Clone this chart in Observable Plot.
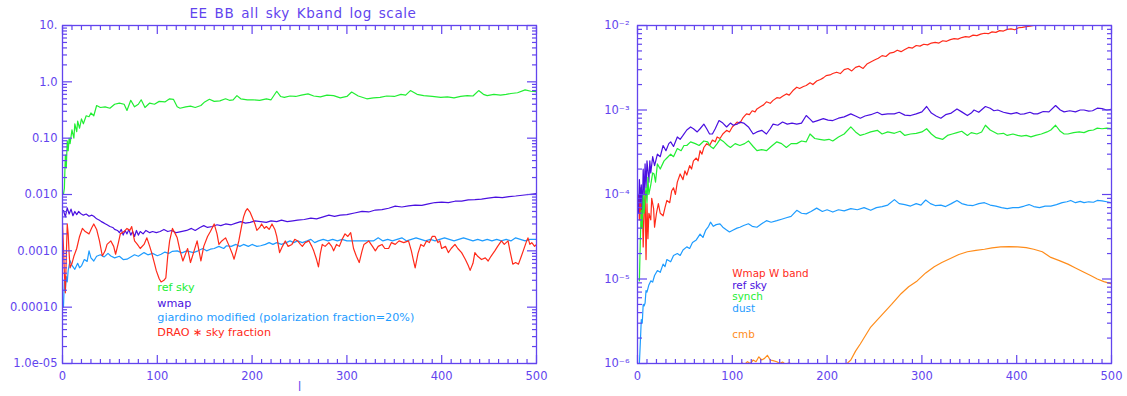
<!DOCTYPE html>
<html><head><meta charset="utf-8">
<script src="https://cdn.jsdelivr.net/npm/d3@7"></script>
<script src="https://cdn.jsdelivr.net/npm/@observablehq/plot@0.6"></script>
<style>
body{margin:0;background:#fff;}
#wrap{position:relative;width:1127px;height:396px;font-family:"DejaVu Sans",sans-serif;overflow:hidden;background:#fff;}
#left,#right{position:absolute;top:0;}
#left{left:0;} #right{left:563px;}
#title{position:absolute;left:0;width:606px;top:5px;text-align:center;font-size:13.5px;color:#6244ee;letter-spacing:0.6px;word-spacing:2px;z-index:5;}
</style></head>
<body><div id="wrap"><div id="title">EE BB all sky Kband log scale</div><div id="left"></div><div id="right"></div></div>
<script>
// ---------- Left panel data: [l, value] ----------
const leftRefSky = [[1,0.010],[2,0.013],[3,0.05],[4,0.03],[5,0.09],[6,0.06],[7,0.10],[8,0.08],[10,0.14],[12,0.10],[13,0.18],[15,0.13],[16,0.20],[18,0.15],[20,0.22],[22,0.18],[25,0.25],[28,0.24],[30,0.28],[33,0.25],[36,0.38],[40,0.35],[45,0.36],[50,0.34],[55,0.40],[60,0.42],[65,0.40],[68,0.31],[72,0.47],[76,0.36],[80,0.40],[83,0.48],[87,0.35],[92,0.42],[97,0.40],[102,0.45],[108,0.44],[113,0.50],[117,0.49],[121,0.36],[124,0.34],[130,0.36],[135,0.37],[140,0.35],[146,0.38],[150,0.44],[155,0.49],[160,0.45],[166,0.46],[172,0.50],[176,0.47],[180,0.48],[184,0.57],[188,0.50],[195,0.48],[201,0.48],[208,0.47],[215,0.50],[220,0.48],[226,0.68],[230,0.55],[234,0.53],[240,0.56],[246,0.55],[252,0.58],[259,0.61],[265,0.56],[272,0.54],[279,0.58],[286,0.57],[293,0.52],[300,0.55],[305,0.66],[312,0.56],[321,0.50],[328,0.52],[335,0.53],[342,0.56],[350,0.55],[357,0.60],[362,0.58],[367,0.70],[374,0.60],[381,0.57],[390,0.55],[399,0.53],[406,0.54],[413,0.52],[420,0.55],[427,0.57],[433,0.56],[439,0.70],[444,0.60],[448,0.57],[455,0.60],[462,0.58],[468,0.60],[473,0.62],[480,0.64],[488,0.72],[494,0.68],[500,0.67]];
const leftWmap = [[1,0.0052],[3,0.0040],[5,0.0058],[7,0.0045],[9,0.0055],[11,0.0042],[13,0.0050],[15,0.0044],[17,0.0050],[19,0.0046],[22,0.0043],[25,0.0045],[28,0.0041],[31,0.0043],[33,0.0041],[36,0.0037],[39,0.0035],[41,0.0033],[44,0.0031],[47,0.0029],[50,0.0027],[53,0.0026],[55,0.0024],[58,0.0023],[60,0.0021],[62,0.0024],[64,0.0019],[66,0.0023],[68,0.0020],[70,0.0024],[72,0.0019],[74,0.0022],[76,0.0018],[78,0.0023],[80,0.0019],[82,0.0022],[85,0.0020],[88,0.0023],[92,0.0021],[95,0.0022],[99,0.0021],[103,0.0022],[107,0.0024],[111,0.0022],[115,0.0023],[120,0.0021],[125,0.0022],[131,0.0023],[136,0.0025],[140,0.0023],[145,0.0026],[149,0.0028],[153,0.0026],[158,0.0027],[163,0.0029],[167,0.0028],[172,0.0030],[178,0.0029],[183,0.0031],[188,0.0033],[193,0.0031],[198,0.0032],[203,0.0034],[209,0.0033],[215,0.0032],[220,0.0034],[226,0.0033],[231,0.0035],[237,0.0033],[243,0.0034],[248,0.0035],[255,0.0036],[262,0.0038],[268,0.0037],[275,0.0040],[281,0.0043],[287,0.0041],[293,0.0043],[300,0.0044],[308,0.0047],[316,0.0050],[323,0.0049],[330,0.0053],[337,0.0054],[344,0.0057],[351,0.0062],[358,0.0060],[365,0.0063],[372,0.0065],[379,0.0064],[386,0.0068],[393,0.0072],[400,0.0073],[407,0.0072],[414,0.0076],[421,0.0076],[428,0.0080],[435,0.0081],[442,0.0083],[449,0.0086],[457,0.0090],[464,0.0088],[471,0.0092],[478,0.0094],[485,0.0097],[492,0.0100],[500,0.0104]];
const leftGiardino = [[1,0.00010],[2,0.00030],[3,0.00020],[4,0.00035],[5,0.00028],[6,0.00045],[8,0.00067],[10,0.00055],[13,0.00047],[16,0.00060],[18,0.00050],[20,0.00054],[23,0.00070],[26,0.00065],[28,0.0010],[30,0.00075],[33,0.00066],[36,0.00080],[40,0.00085],[44,0.00078],[48,0.00090],[51,0.00081],[55,0.00075],[60,0.00080],[64,0.00070],[68,0.00071],[72,0.00078],[76,0.00085],[80,0.00080],[86,0.00093],[90,0.00085],[95,0.00090],[100,0.00082],[104,0.00087],[108,0.00095],[112,0.00090],[116,0.00098],[121,0.0010],[126,0.00092],[131,0.0010],[138,0.00093],[143,0.0010],[148,0.0011],[152,0.0010],[156,0.00107],[160,0.0011],[165,0.0012],[170,0.0011],[173,0.00123],[178,0.0012],[183,0.0013],[187,0.0012],[191,0.0013],[196,0.0012],[200,0.0013],[205,0.0012],[209,0.00123],[214,0.0013],[218,0.0014],[222,0.0013],[226,0.0014],[231,0.0013],[236,0.0014],[240,0.0015],[244,0.0014],[248,0.0015],[253,0.0014],[258,0.0015],[262,0.0016],[266,0.0014],[270,0.0015],[275,0.0016],[280,0.0015],[285,0.0016],[290,0.0015],[295,0.0016],[300,0.0015],[310,0.0015],[320,0.0015],[328,0.0015],[333,0.0017],[338,0.0015],[343,0.0016],[348,0.0015],[353,0.0016],[358,0.0017],[363,0.0015],[368,0.0016],[373,0.0017],[378,0.0016],[383,0.0015],[388,0.0016],[393,0.0015],[398,0.0016],[403,0.0017],[408,0.0016],[413,0.0015],[418,0.0016],[423,0.0017],[428,0.0016],[433,0.0015],[438,0.0016],[443,0.0015],[448,0.0016],[453,0.0015],[458,0.0016],[463,0.0015],[468,0.0016],[473,0.0015],[478,0.0017],[483,0.0016],[488,0.0015],[493,0.0016],[500,0.0016]];
const leftDrao = [[0,0.0030],[1,0.0012],[2,0.0004],[3,0.00018],[4,0.0008],[5,0.0030],[6,0.0020],[7,0.0009],[8,0.0005],[10,0.0006],[12,0.0008],[15,0.0011],[18,0.0018],[21,0.0025],[24,0.0022],[28,0.0020],[31,0.0026],[33,0.0030],[36,0.0024],[39,0.0015],[42,0.00081],[45,0.0010],[47,0.0013],[51,0.0015],[54,0.0012],[56,0.00087],[59,0.0014],[61,0.0020],[65,0.0022],[68,0.0025],[71,0.0023],[73,0.0027],[76,0.0015],[79,0.0013],[82,0.0011],[86,0.0013],[89,0.0017],[92,0.0012],[94,0.00093],[97,0.0006],[99,0.00044],[102,0.00032],[104,0.00028],[107,0.00030],[109,0.00033],[111,0.0008],[113,0.0015],[116,0.0025],[119,0.0020],[121,0.0017],[124,0.0010],[127,0.00066],[130,0.0009],[132,0.0011],[135,0.00062],[138,0.0009],[142,0.0015],[144,0.0010],[146,0.00066],[149,0.0012],[153,0.0018],[156,0.0022],[160,0.0030],[163,0.0020],[165,0.0013],[168,0.0015],[172,0.0017],[176,0.0012],[179,0.0009],[181,0.00071],[184,0.0011],[186,0.0015],[189,0.0028],[191,0.0040],[193,0.0050],[195,0.0056],[198,0.0048],[200,0.0040],[203,0.0030],[205,0.0023],[208,0.0026],[210,0.0030],[213,0.0025],[215,0.0027],[218,0.0024],[221,0.0030],[224,0.0024],[226,0.0018],[229,0.00093],[232,0.0012],[235,0.0015],[238,0.0012],[242,0.0013],[245,0.0016],[248,0.0015],[251,0.0013],[253,0.0012],[256,0.0014],[260,0.0015],[263,0.0012],[265,0.0010],[268,0.0007],[270,0.00052],[272,0.0009],[274,0.0013],[277,0.0012],[281,0.0014],[284,0.0012],[286,0.0010],[289,0.0013],[292,0.0012],[295,0.0016],[298,0.0020],[301,0.0018],[304,0.0021],[307,0.0011],[310,0.0008],[313,0.00062],[316,0.0010],[318,0.0013],[321,0.0014],[323,0.0015],[327,0.0012],[330,0.0010],[333,0.0012],[337,0.0013],[340,0.0011],[344,0.0011],[347,0.0014],[351,0.0013],[355,0.0015],[360,0.0014],[365,0.0015],[368,0.0010],[370,0.0007],[372,0.0005],[375,0.0009],[378,0.0013],[381,0.0012],[384,0.0015],[387,0.0014],[390,0.0018],[393,0.0018],[396,0.0014],[398,0.0015],[400,0.0011],[404,0.0012],[407,0.00093],[410,0.0011],[414,0.0013],[417,0.0011],[421,0.00093],[425,0.0007],[428,0.00055],[430,0.00045],[433,0.0006],[435,0.00093],[438,0.0008],[442,0.0007],[446,0.00075],[449,0.00066],[452,0.0008],[456,0.0010],[459,0.0012],[463,0.0015],[466,0.0013],[470,0.0015],[472,0.0010],[475,0.00058],[478,0.00062],[481,0.00058],[484,0.0008],[486,0.0010],[489,0.0014],[491,0.0017],[493,0.0013],[495,0.0014],[498,0.0012],[500,0.0013]];

// ---------- Right panel data: [l, value] ----------
const rightWband = [[1,0.00010],[2,0.00005],[3,0.00012],[4,0.00004],[5,0.00009],[6,0.000024],[7,0.00006],[8,0.00011],[9,0.000017],[10,0.000078],[11,0.00003],[12,0.00006],[14,0.00005],[15,0.00009],[17,0.000068],[18,0.000041],[20,0.00006],[22,0.000078],[24,0.00006],[27,0.000056],[29,0.00007],[31,0.000085],[34,0.00008],[36,0.00011],[38,0.00012],[40,0.00010],[42,0.00014],[45,0.000175],[48,0.00015],[50,0.00019],[52,0.00017],[55,0.00022],[57,0.0002],[59,0.00025],[62,0.00027],[64,0.00025],[66,0.00033],[68,0.0003],[70,0.00036],[73,0.0004],[76,0.00038],[79,0.00044],[82,0.00042],[84,0.00048],[87,0.00046],[90,0.00052],[94,0.000575],[97,0.00055],[100,0.00063],[103,0.00068],[105,0.00072],[108,0.0007],[111,0.0008],[113,0.00085],[115,0.0009],[118,0.00088],[121,0.00098],[124,0.00095],[126,0.00103],[130,0.0011],[133,0.00115],[136,0.00125],[140,0.0012],[143,0.0013],[147,0.0014],[150,0.00138],[153,0.00145],[157,0.00155],[160,0.0015],[164,0.0017],[168,0.00186],[171,0.0018],[175,0.0019],[178,0.00195],[182,0.0021],[185,0.002],[189,0.0022],[193,0.0023],[196,0.0024],[199,0.00255],[203,0.0026],[206,0.0027],[210,0.0028],[214,0.0027],[218,0.0030],[222,0.0031],[226,0.0029],[230,0.0032],[234,0.0033],[238,0.0031],[242,0.0035],[246,0.0037],[250,0.0039],[254,0.0041],[258,0.0044],[262,0.0043],[266,0.0047],[270,0.0048],[274,0.0051],[278,0.0049],[282,0.0052],[286,0.0055],[290,0.0054],[294,0.0058],[298,0.0057],[302,0.0060],[306,0.0059],[310,0.0062],[314,0.0063],[318,0.0062],[322,0.0066],[326,0.0065],[330,0.0068],[334,0.0070],[338,0.0069],[342,0.0072],[346,0.0074],[350,0.0073],[354,0.0077],[358,0.0076],[362,0.0079],[366,0.0081],[370,0.0080],[374,0.0084],[378,0.0083],[382,0.0087],[386,0.0086],[390,0.0090],[394,0.0091],[398,0.0089],[402,0.0094],[406,0.0095],[410,0.0097],[414,0.0098],[418,0.0100],[424,0.0102],[430,0.0104],[440,0.0108],[450,0.0111],[460,0.0115],[470,0.0118],[480,0.0121],[490,0.0124],[500,0.0127]];
const rightRefSky = [[1,0.00006],[2,0.00015],[3,0.00008],[4,0.00013],[5,0.00006],[6,0.0002],[7,0.0001],[8,0.00023],[9,0.00012],[10,0.00025],[11,0.00019],[12,0.00014],[13,0.00025],[14,0.00018],[16,0.00028],[18,0.00022],[21,0.0003],[24,0.00028],[27,0.00038],[30,0.00033],[33,0.0004],[35,0.00042],[38,0.00037],[42,0.00048],[45,0.00045],[48,0.0005],[52,0.00058],[56,0.00063],[59,0.0006],[63,0.00055],[66,0.0006],[70,0.00068],[73,0.0006],[76,0.00052],[79,0.00052],[82,0.0006],[86,0.00075],[90,0.0007],[94,0.00063],[98,0.0007],[101,0.00066],[105,0.00068],[108,0.00072],[112,0.0007],[117,0.00063],[122,0.00052],[126,0.00055],[131,0.000575],[136,0.00052],[140,0.0006],[143,0.00068],[148,0.00066],[153,0.00072],[158,0.00068],[163,0.0007],[168,0.00068],[173,0.0007],[178,0.00086],[182,0.00078],[185,0.00072],[190,0.00075],[196,0.00079],[201,0.00076],[206,0.00075],[212,0.0008],[218,0.00083],[225,0.0009],[230,0.00085],[235,0.0008],[240,0.00085],[246,0.00088],[253,0.00094],[258,0.00088],[264,0.0009],[271,0.0009],[276,0.00094],[282,0.00087],[288,0.00086],[294,0.0009],[300,0.00095],[305,0.0011],[310,0.00092],[315,0.00085],[320,0.0008],[325,0.00088],[331,0.00092],[337,0.00103],[342,0.00095],[348,0.00086],[352,0.00092],[355,0.001],[360,0.00094],[367,0.0011],[372,0.00105],[376,0.00098],[380,0.001],[386,0.00094],[390,0.00092],[394,0.0009],[400,0.00093],[404,0.00089],[408,0.0009],[414,0.00094],[418,0.0009],[422,0.0009],[428,0.00096],[434,0.00095],[441,0.00113],[446,0.001],[450,0.00095],[456,0.00098],[462,0.00095],[467,0.001],[471,0.001],[476,0.00097],[480,0.00098],[485,0.00105],[490,0.00104],[495,0.001],[500,0.00102]];
const rightSynch = [[2,0.0000095],[3,0.00003],[4,0.000065],[5,0.00004],[6,0.0001],[7,0.00006],[8,0.000093],[9,0.00012],[10,0.00008],[11,0.00016],[12,0.0001],[14,0.00013],[16,0.00018],[17.5,0.000175],[19,0.00014],[21,0.00023],[24,0.0002],[28,0.00025],[31,0.00027],[35,0.0003],[38,0.00028],[42,0.00035],[46,0.00033],[49,0.00038],[52,0.00038],[56,0.00042],[61,0.0004],[65,0.00038],[70,0.00043],[74,0.00042],[77,0.00037],[80,0.00035],[84,0.0004],[87,0.00045],[91,0.00042],[95,0.00038],[98,0.00036],[103,0.0004],[108,0.00038],[113,0.0004],[117,0.00043],[122,0.00037],[126,0.00033],[131,0.00034],[136,0.00033],[141,0.00037],[147,0.00042],[152,0.0004],[157,0.00036],[162,0.0004],[168,0.0004],[173,0.00043],[178,0.00042],[182,0.00052],[187,0.00046],[192,0.00045],[197,0.00044],[202,0.00045],[206,0.00043],[212,0.00048],[218,0.00052],[225,0.00063],[230,0.00055],[235,0.0005],[240,0.00052],[246,0.00055],[253,0.000575],[258,0.00052],[264,0.00055],[271,0.00053],[277,0.00056],[282,0.0005],[288,0.00052],[294,0.00053],[300,0.00055],[305,0.0006],[310,0.00052],[315,0.00047],[322,0.00045],[327,0.0005],[332,0.00052],[337,0.00054],[342,0.00056],[348,0.0005],[352,0.00054],[358,0.00052],[363,0.00055],[367,0.00066],[372,0.00058],[376,0.00055],[380,0.00052],[386,0.00053],[390,0.0005],[396,0.00052],[401,0.0005],[405,0.00049],[410,0.0005],[415,0.00048],[420,0.0005],[426,0.00052],[432,0.00055],[436,0.00058],[441,0.00066],[446,0.00056],[450,0.00052],[454,0.00052],[460,0.00054],[466,0.00055],[471,0.00054],[476,0.00057],[481,0.00058],[485,0.00061],[490,0.0006],[495,0.00061],[500,0.0006]];
const rightDust = [[2,0.000001],[3,0.0000018],[4,0.0000033],[5,0.000003],[6,0.000005],[7,0.0000048],[8,0.0000052],[9,0.0000073],[10,0.000007],[12,0.0000085],[14,0.0000095],[16,0.0000092],[18,0.000011],[21,0.0000126],[24,0.000012],[27,0.000015],[29,0.000014],[31,0.000017],[35,0.000016],[38,0.000019],[42,0.00002],[45,0.000019],[48,0.000022],[52,0.000024],[55,0.000023],[58,0.000027],[62,0.000029],[66,0.000034],[69,0.000031],[72,0.000038],[75,0.000042],[77,0.000047],[80,0.000042],[83,0.000044],[87,0.000045],[90,0.000041],[94,0.000038],[97,0.000036],[101,0.000038],[105,0.00004],[108,0.000041],[112,0.000043],[117,0.000045],[121,0.000042],[126,0.000041],[131,0.000045],[136,0.000049],[141,0.000047],[147,0.000049],[152,0.000051],[157,0.000053],[162,0.000055],[168,0.000065],[173,0.00006],[178,0.000059],[183,0.000063],[189,0.000069],[195,0.000063],[200,0.000066],[206,0.000062],[212,0.000066],[218,0.000064],[225,0.000068],[232,0.000066],[239,0.00007],[246,0.000065],[252,0.00007],[258,0.000072],[264,0.000075],[271,0.000087],[276,0.000078],[282,0.000076],[288,0.000073],[294,0.000078],[299,0.000075],[304,0.000086],[309,0.000078],[314,0.000074],[320,0.000075],[325,0.000072],[331,0.000078],[337,0.000085],[342,0.000078],[348,0.000075],[354,0.000074],[360,0.000078],[366,0.00008],[372,0.000075],[378,0.000073],[384,0.00007],[390,0.000068],[396,0.00007],[402,0.00007],[408,0.000073],[413,0.000076],[418,0.000072],[424,0.00007],[430,0.000073],[436,0.000073],[442,0.000076],[448,0.00008],[453,0.000082],[457,0.000085],[462,0.00008],[467,0.000083],[471,0.00008],[476,0.000082],[481,0.000081],[485,0.000085],[490,0.000084],[495,0.000082],[500,0.00008]];
const rightCmb = [[100,0.0000007],[108,0.00000095],[110,0.00000102],[113,0.00000098],[116,0.00000105],[119,0.000001],[122,0.0000011],[125,0.00000105],[128,0.0000012],[131,0.0000011],[134,0.00000115],[137,0.00000125],[140,0.0000011],[143,0.00000108],[147,0.00000105],[150,0.000001],[153,0.00000104],[156,0.00000098],[160,0.00000102],[163,0.00000097],[166,0.0000009],[180,0.0000008],[200,0.0000008],[215,0.0000009],[221,0.000001],[225,0.0000011],[230,0.0000014],[235,0.0000017],[240,0.0000021],[246,0.0000027],[252,0.0000032],[260,0.000004],[268,0.000005],[278,0.0000067],[286,0.0000081],[295,0.0000095],[304,0.0000118],[313,0.000014],[321,0.0000157],[330,0.0000175],[339,0.0000195],[348,0.000021],[357,0.0000218],[366,0.0000225],[374,0.0000233],[383,0.000024],[392,0.0000242],[401,0.000024],[410,0.0000235],[418,0.0000225],[427,0.000021],[436,0.000018],[445,0.0000165],[454,0.000015],[462,0.0000135],[471,0.000012],[478,0.000011],[485,0.00001],[492,0.0000093],[499,0.0000088]];

// ---------- Axis ticks and labels ----------
const xMajorTicks = [0, 100, 200, 300, 400, 500];
const leftYMajor = [1e-5, 1e-4, 1e-3, 1e-2, 1e-1, 1, 10];
const leftYLabels = ["1.0e-05", "0.00010", "0.0010", "0.010", "0.10", "1.0", "10."];
const rightYMajor = [1e-6, 1e-5, 1e-4, 1e-3, 1e-2];
const rightYLabels = ["10⁻⁶", "10⁻⁵", "10⁻⁴", "10⁻³", "10⁻²"];

// ---------- Legend labels ----------
const leftLegend = [
  {text: "ref sky", x: 100, y: 2.2e-4, color: "#22ee33"},
  {text: "wmap", x: 100, y: 1.15e-4, color: "#4a10e0"},
  {text: "giardino modified (polarization fraction=20%)", x: 100, y: 6.6e-5, color: "#1e9cff"},
  {text: "DRAO ∗ sky fraction", x: 100, y: 3.5e-5, color: "#ff2a1a"}
];
const rightLegend = [
  {text: "Wmap W band", x: 100, y: 1.16e-5, color: "#ff2a1a"},
  {text: "ref sky", x: 100, y: 8.3e-6, color: "#4a10e0"},
  {text: "synch", x: 100, y: 6.2e-6, color: "#22ee33"},
  {text: "dust", x: 100, y: 4.4e-6, color: "#1e9cff"},
  {text: "cmb", x: 100, y: 2.2e-6, color: "#ff8c1a"}
];

const AX = "#6244ee";
const GREEN = "#22ee33", DBLUE = "#4a10e0", LBLUE = "#1e9cff", RED = "#ff2a1a", ORANGE = "#ff8c1a";

function minorLog(major) {
  const out = [];
  for (let i = 0; i < major.length - 1; i++) for (let k = 2; k <= 9; k++) out.push(major[i] * k);
  return out;
}
const xMinorTicks = d3.range(0, 501, 10).filter(v => v % 100 !== 0);

function panel({width, marginLeft, marginRight, yMajor, yLabels, lines, legend, legendSize, xLabel, yPad}) {
  const marks = [];
  for (const [data, color] of lines) {
    marks.push(Plot.line(data, {x: d => d[0], y: d => d[1], stroke: color, strokeWidth: 1.2, clip: true}));
  }
  marks.push(Plot.text(legend, {x: "x", y: "y", text: "text", fill: "color", textAnchor: "start", fontSize: legendSize, fontFamily: "DejaVu Sans"}));
  marks.push(Plot.frame({stroke: AX, strokeWidth: 1.3}));
  const noText = () => "";
  // inward ticks: positive tick length, shifted back inside the frame
  marks.push(Plot.axisX(xMajorTicks, {anchor: "bottom", tickSize: 8, dy: -8, tickFormat: noText, color: AX, strokeWidth: 1.2, label: null}));
  marks.push(Plot.axisX(xMinorTicks, {anchor: "bottom", tickSize: 4, dy: -4, tickFormat: noText, color: AX, strokeWidth: 1.2, label: null}));
  marks.push(Plot.axisX(xMajorTicks, {anchor: "top", tickSize: 8, dy: 8, tickFormat: noText, color: AX, strokeWidth: 1.2, label: null}));
  marks.push(Plot.axisX(xMinorTicks, {anchor: "top", tickSize: 4, dy: 4, tickFormat: noText, color: AX, strokeWidth: 1.2, label: null}));
  marks.push(Plot.axisY(yMajor, {anchor: "left", tickSize: 10, dx: 10, tickFormat: noText, color: AX, strokeWidth: 1.2, label: null}));
  marks.push(Plot.axisY(minorLog(yMajor), {anchor: "left", tickSize: 5, dx: 5, tickFormat: noText, color: AX, strokeWidth: 1.2, label: null}));
  marks.push(Plot.axisY(yMajor, {anchor: "right", tickSize: 10, dx: -10, tickFormat: noText, color: AX, strokeWidth: 1.2, label: null}));
  marks.push(Plot.axisY(minorLog(yMajor), {anchor: "right", tickSize: 5, dx: -5, tickFormat: noText, color: AX, strokeWidth: 1.2, label: null}));
  // tick labels
  marks.push(Plot.axisX(xMajorTicks, {anchor: "bottom", tickSize: 0, tickPadding: 8, tickFormat: d => String(d), color: AX, fontSize: 11.5, label: null}));
  marks.push(Plot.axisY(yMajor, {anchor: "left", tickSize: 0, tickPadding: yPad, tickFormat: d => yLabels[yMajor.indexOf(d)], color: AX, fontSize: 11.5, label: null}));
  if (xLabel) marks.push(Plot.text([xLabel], {frameAnchor: "bottom", dy: 27, text: d => d, fill: AX, fontSize: 11.5}));
  return Plot.plot({
    width, height: 396,
    marginLeft, marginRight, marginTop: 25, marginBottom: 33,
    style: {fontFamily: "DejaVu Sans", fontSize: "11.5px", background: "transparent", overflow: "visible"},
    x: {domain: [0, 500], label: null},
    y: {type: "log", domain: [yMajor[0], yMajor[yMajor.length - 1]], label: null},
    marks
  });
}

document.getElementById("left").appendChild(panel({
  width: 563, marginLeft: 62, marginRight: 27,
  yMajor: leftYMajor, yLabels: leftYLabels, yPad: 5, legendSize: 11.2,
  lines: [[leftRefSky, GREEN], [leftWmap, DBLUE], [leftGiardino, LBLUE], [leftDrao, RED]],
  legend: leftLegend, xLabel: "l"
}));
document.getElementById("right").appendChild(panel({
  width: 564, marginLeft: 74, marginRight: 16,
  yMajor: rightYMajor, yLabels: rightYLabels, yPad: 8, legendSize: 10.4,
  lines: [[rightWband, RED], [rightRefSky, DBLUE], [rightSynch, GREEN], [rightDust, LBLUE], [rightCmb, ORANGE]],
  legend: rightLegend, xLabel: null
}));
</script>
</body></html>
